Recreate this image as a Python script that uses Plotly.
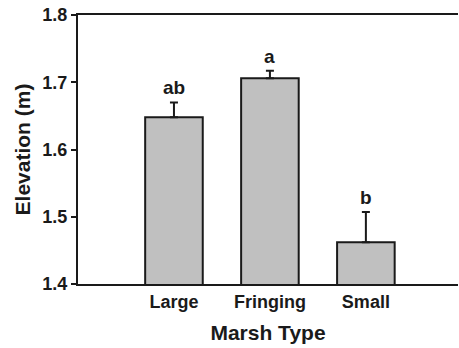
import plotly.graph_objects as go

# Mean marsh elevation by marsh type with upper standard-error bars
categories = ["Large", "Fringing", "Small"]
elevation = [1.648, 1.706, 1.462]
std_err = [0.022, 0.011, 0.045]
groups = ["ab", "a", "b"]
y_ticks = [1.4, 1.5, 1.6, 1.7, 1.8]

FONT = "Liberation Sans, Arial, Helvetica, sans-serif"
INK = "#1a1a1a"

fig = go.Figure(
    go.Bar(
        x=categories,
        y=elevation,
        width=0.6,
        marker=dict(color="#c0c0c0", line=dict(color=INK, width=2)),
        error_y=dict(
            type="data",
            array=std_err,
            arrayminus=[0] * len(std_err),
            symmetric=False,
            color=INK,
            thickness=2,
            width=4,
        ),
    )
)

# significance letters above each error bar
for cat, val, err, g in zip(categories, elevation, std_err, groups):
    fig.add_annotation(
        x=cat, y=val + err, text=f"<b>{g}</b>", showarrow=False,
        yanchor="bottom", yshift=2,
        font=dict(family=FONT, size=19, color=INK),
    )

fig.update_layout(
    width=459, height=348,
    margin=dict(l=78, r=1, t=15, b=64),
    plot_bgcolor="white", paper_bgcolor="white",
    showlegend=False,
    font=dict(family=FONT, color=INK),
)
fig.update_xaxes(
    range=[-1.0, 2.96],
    tickvals=categories, ticktext=[f"<b>{c}</b>" for c in categories],
    showline=True, linecolor=INK, linewidth=2, mirror=True,
    ticks="", showgrid=False,
    tickfont=dict(family=FONT, size=18, color=INK),
    title=dict(text="<b>Marsh Type</b>", font=dict(family=FONT, size=21, color=INK), standoff=15),
    automargin=False,
)
fig.update_yaxes(
    range=[1.4, 1.8], tickvals=y_ticks, ticktext=[f"<b>{v:.1f}</b>" for v in y_ticks],
    showline=True, linecolor=INK, linewidth=2,
    ticks="outside", ticklen=5, tickwidth=2, tickcolor=INK,
    showgrid=False, zeroline=False,
    tickfont=dict(family=FONT, size=18, color=INK),
    title=dict(text="<b>Elevation (m)</b>", font=dict(family=FONT, size=21, color=INK), standoff=6),
    automargin=False,
)

fig.write_html("out.html")
